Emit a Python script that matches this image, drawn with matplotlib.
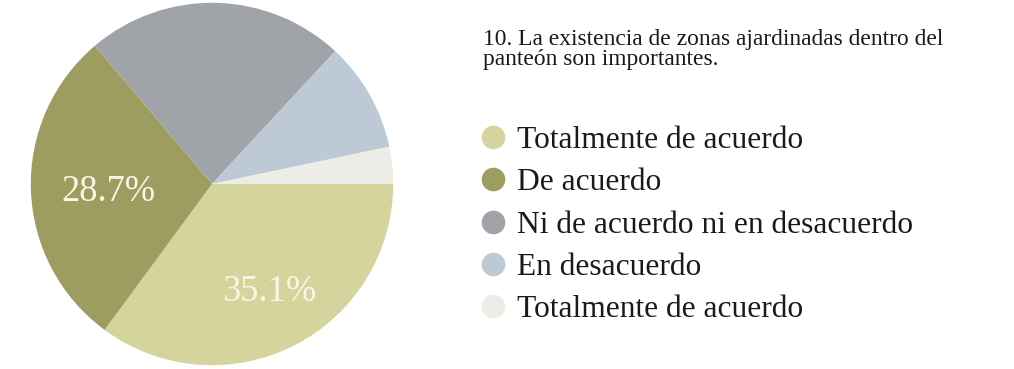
import matplotlib
matplotlib.use("Agg")
import matplotlib.pyplot as plt
from matplotlib.lines import Line2D
from matplotlib.transforms import offset_copy

categories = ["Totalmente de acuerdo", "De acuerdo", "Ni de acuerdo ni en desacuerdo",
              "En desacuerdo", "Totalmente de acuerdo"]
values = [35.1, 28.7, 23.1, 9.8, 3.3]
colors = ["#d5d49d", "#9e9d60", "#a0a4a9", "#bdcad5", "#ecede6"]
title = "10. La existencia de zonas ajardinadas dentro del\npanteón son importantes."

serif = ["Liberation Serif", "DejaVu Serif"]

fig = plt.figure(figsize=(10.14, 3.69), dpi=100)
fig.patch.set_facecolor("white")

ax = fig.add_axes([29/1014, 2/369, 366/1014, 366/369])
wedges, texts, autotexts = ax.pie(
    values, colors=colors, startangle=0, counterclock=False,
    autopct=lambda p: f"{p:.1f}%" if p > 25 else "",
    pctdistance=0.61, radius=1.0,
    wedgeprops=dict(linewidth=0),
    textprops=dict(color="#f8f6e6", fontsize=26.3, family=serif))
# small pixel nudges of the percentage labels
nudges = [(7, -9), (7, -4), (0, 0), (0, 0), (0, 0)]
for t, (dx, dy) in zip(autotexts, nudges):
    t.set_transform(offset_copy(t.get_transform(), fig=fig, x=dx, y=dy, units="dots"))
ax.set_xlim(-1.01, 1.01)
ax.set_ylim(-1.01, 1.01)
ax.set_aspect("equal")
ax.axis("off")

fig.text(483/1014, 1 - 29/369, title, ha="left", va="top", fontsize=16.9,
         family=serif, color="#1a1a1a", linespacing=0.92)

handles = [Line2D([0], [0], marker="o", linestyle="none", markersize=16,
                  markerfacecolor=c, markeredgecolor=c) for c in colors]
fig.legend(handles, categories, loc="upper left",
           bbox_to_anchor=(477/1014, 1 - 126/369), frameon=False,
           prop=dict(family=serif, size=22.7), labelcolor="#1a1a1a",
           handletextpad=0.28, labelspacing=0.42, handlelength=1.0,
           borderaxespad=0, borderpad=0)

fig.savefig("out.png", dpi=100, facecolor="white")
